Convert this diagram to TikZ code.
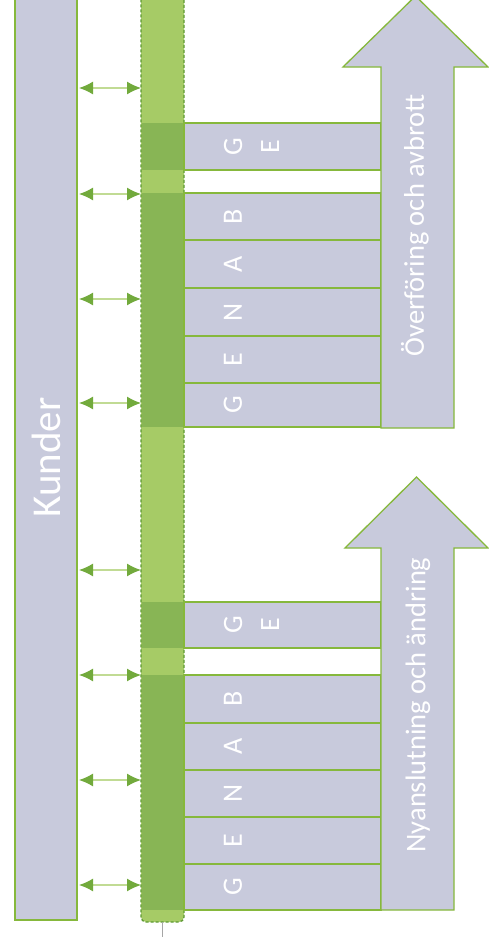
\documentclass[tikz,border=0pt]{standalone}
\usepackage{fontspec}
\setmainfont{Carlito}
\usetikzlibrary{arrows.meta}
\definecolor{boxfill}{HTML}{C8CADC}
\definecolor{lineg}{HTML}{86B83C}
\definecolor{colg}{HTML}{A6CB66}
\definecolor{cellg}{HTML}{88B555}
\definecolor{dashg}{HTML}{5E9A33}
\definecolor{tipg}{HTML}{72AA3C}
\tikzset{
  kbar/.style={draw=lineg, line width=1.2pt, fill=boxfill, rotate=90, minimum width=925, minimum height=62, inner sep=0, outer sep=0, text=white, font=\fontsize{41}{44}\selectfont},
  column/.style={draw=dashg, dashed, dash pattern=on 3pt off 2pt, line width=1.3pt, fill=colg, rounded corners=5pt, minimum width=43, minimum height=932, inner sep=0, outer sep=0},
  cell/.style={fill=cellg, minimum width=41, inner sep=0, outer sep=0, anchor=north west},
  rowbox/.style={draw=lineg, line width=1.3pt, fill=boxfill, minimum width=197, inner sep=0, outer sep=0, anchor=north west},
  letter/.style={text=white, rotate=90, align=center, font=\fontsize{28}{37}\selectfont},
  bigarrow/.style={draw=lineg, line width=1.3pt, fill=boxfill},
  arrowtext/.style={text=white, rotate=90, font=\fontsize{28.5}{30}\selectfont},
  link/.style={draw=colg!70!white, line width=1.3pt, {Latex[length=14pt,width=13pt,color=tipg]}-{Latex[length=14pt,width=13pt,color=tipg]}},
  stem/.style={draw=gray!70, line width=1pt}
}
\begin{document}
\begin{tikzpicture}[x=1pt,y=-1pt]
\useasboundingbox (0,0) rectangle (489,937);
\clip (0,0) rectangle (489,937);
\fill[white] (0,0) rectangle (489,937);

% Kunder bar
\node[kbar] (kunder) at (46,457.5) {Kunder};

% green column
\node[column] (col) at (162.5,456) {};
\draw[stem] (col.south) -- ++(0,20);

% rows: top, bottom, label x, label
\foreach \t/\b/\lx/\lab/\n in {123/170/251.5/{G\\E}/a1, 193/240/233/B/a2, 240/288/233/A/a3, 288/336/233/N/a4, 336/383/233/E/a5, 383/427/233/G/a6,
                          602/648/251.5/{G\\E}/b1, 675/723/233/B/b2, 723/770/233/A/b3, 770/817/233/N/b4, 817/864/233/E/b5, 864/910/233/G/b6}{
  \pgfmathsetmacro{\h}{\b-\t}
  \node[cell, minimum height=\h] (c\n) at (142,\t) {};
  \node[rowbox, minimum height=\h] (r\n) at (184,\t) {};
  \node[letter] (l\n) at (\lx,{(\t+\b)/2}) {\lab};
}

% big arrows
\draw[bigarrow] (381,428) -- (381,67) -- (343,67) -- (415.5,-4) -- (488,67) -- (454,67) -- (454,428) -- cycle;
\node[arrowtext] (t1) at (415,225) {Överföring och avbrott};
\draw[bigarrow] (381,910) -- (381,548) -- (345,548) -- (416.5,477) -- (488,548) -- (454,548) -- (454,910) -- cycle;
\node[arrowtext] (t2) at (418,705) {Nyanslutning och ändring};

% double arrows
\foreach \y [count=\i] in {88,194,299,403,570,675,780,885}{
  \coordinate (pl\i) at (79,\y);
  \coordinate (pr\i) at (141,\y);
  \draw[link] (pl\i) -- (pr\i);
}
\end{tikzpicture}
\end{document}
